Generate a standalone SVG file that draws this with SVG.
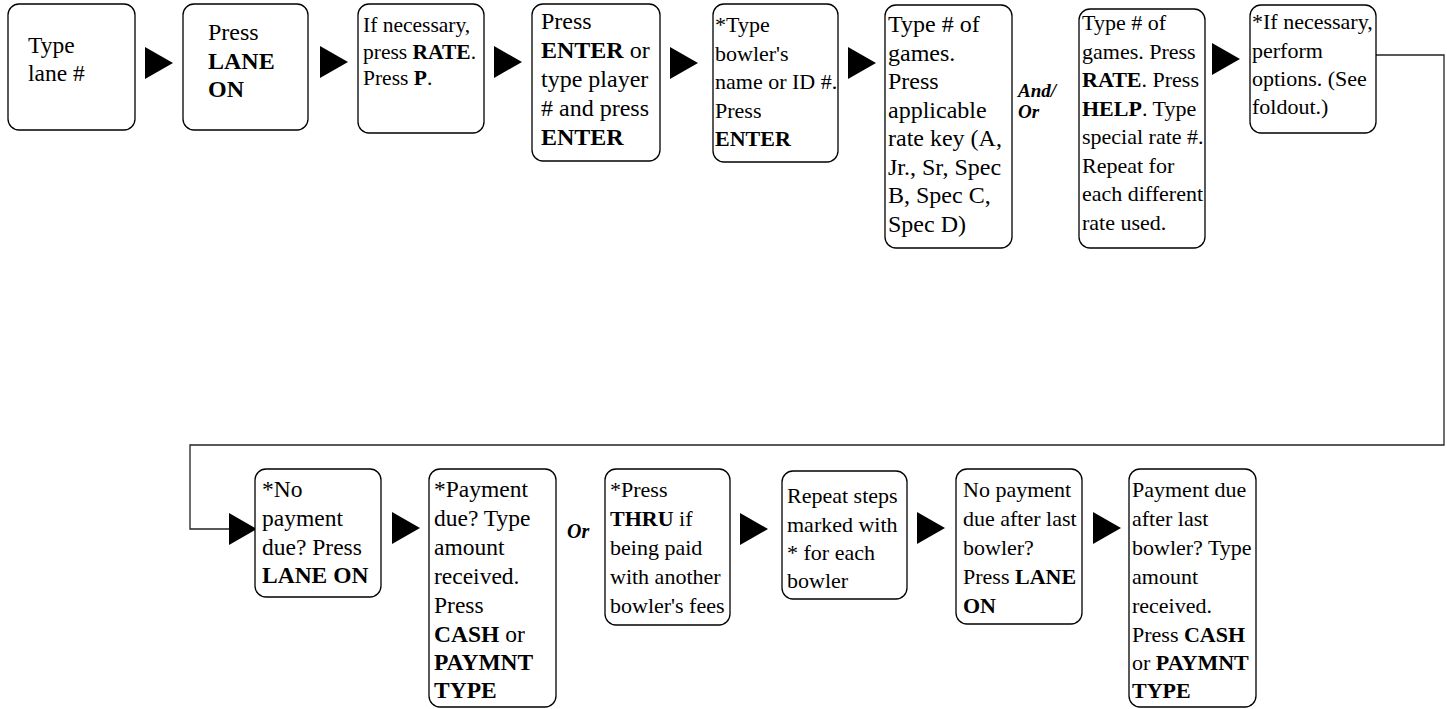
<svg xmlns="http://www.w3.org/2000/svg" width="1447" height="709" viewBox="0 0 1447 709">
<style>
.box{fill:#fff;stroke:#000;stroke-width:1.3}
.t{fill:#000}
.b{font-weight:bold}
.lbl{font-weight:bold;font-style:italic;font-size:20px;fill:#000}
.arr{fill:#000}
.line{fill:none;stroke:#222;stroke-width:1.3}
</style>
<rect width="1447" height="709" fill="#fff"/>
<g id="connectors">
<polyline class="line" points="1376,55 1444,55 1444,445 190,445 190,529 232,529"/>
<polygon class="arr" points="145,47 173,63 145,79"/>
<polygon class="arr" points="320,46 348,62 320,78"/>
<polygon class="arr" points="494,46 522,62 494,78"/>
<polygon class="arr" points="670,47 698,63 670,79"/>
<polygon class="arr" points="848,47 876,63 848,79"/>
<polygon class="arr" points="1212,43 1240,59 1212,75"/>
<polygon class="arr" points="229,513 257,529 229,545"/>
<polygon class="arr" points="392,512 420,528 392,544"/>
<polygon class="arr" points="740,513 768,529 740,545"/>
<polygon class="arr" points="917,512 945,528 917,544"/>
<polygon class="arr" points="1093,512 1121,528 1093,544"/>
</g>
<g font-family="Liberation Serif, Times New Roman, Tinos, Noto Serif, DejaVu Serif, serif">
<g id="n1"><rect class="box" x="8" y="4" width="127" height="126" rx="11"/>
<text class="t" font-size="23.5"><tspan x="28" y="53">Type</tspan><tspan x="28" y="81">lane #</tspan></text></g>
<g id="n2"><rect class="box" x="183" y="4" width="125" height="126" rx="11"/>
<text class="t" font-size="24"><tspan x="208" y="40">Press</tspan><tspan x="208" y="68.5" class="b">LANE</tspan><tspan x="208" y="97" class="b">ON</tspan></text></g>
<g id="n3"><rect class="box" x="358" y="4" width="126" height="129" rx="11"/>
<text class="t" font-size="21.5"><tspan x="363" y="32">If necessary,</tspan><tspan x="363" y="58.5">press <tspan class="b">RATE</tspan>.</tspan><tspan x="363" y="85">Press <tspan class="b">P</tspan>.</tspan></text></g>
<g id="n4"><rect class="box" x="532" y="4" width="128" height="157" rx="11"/>
<text class="t" font-size="24"><tspan x="541" y="29">Press</tspan><tspan x="541" y="58"><tspan class="b">ENTER</tspan> or</tspan><tspan x="541" y="87">type player</tspan><tspan x="541" y="116"># and press</tspan><tspan x="541" y="145" class="b">ENTER</tspan></text></g>
<g id="n5"><rect class="box" x="713" y="4" width="125" height="158" rx="11"/>
<text class="t" font-size="22"><tspan x="715" y="32">*Type</tspan><tspan x="715" y="60.5">bowler's</tspan><tspan x="715" y="89">name or ID #.</tspan><tspan x="715" y="117.5">Press</tspan><tspan x="715" y="146" class="b">ENTER</tspan></text></g>
<g id="n6"><rect class="box" x="885" y="5" width="127" height="243" rx="11"/>
<text class="t" font-size="24"><tspan x="888" y="32">Type # of</tspan><tspan x="888" y="60.5">games.</tspan><tspan x="888" y="89">Press</tspan><tspan x="888" y="117.5">applicable</tspan><tspan x="888" y="146">rate key (A,</tspan><tspan x="888" y="174.5">Jr., Sr, Spec</tspan><tspan x="888" y="203">B, Spec C,</tspan><tspan x="888" y="231.5">Spec D)</tspan></text></g>
<g id="lbl1"><text class="lbl" font-size="19" style="font-size:19px"><tspan x="1018" y="97">And/</tspan><tspan x="1018" y="118">Or</tspan></text></g>
<g id="n7"><rect class="box" x="1079" y="9" width="126" height="239" rx="11"/>
<text class="t" font-size="22"><tspan x="1082" y="30">Type # of</tspan><tspan x="1082" y="58.5">games. Press</tspan><tspan x="1082" y="87"><tspan class="b">RATE</tspan>. Press</tspan><tspan x="1082" y="115.5"><tspan class="b">HELP</tspan>. Type</tspan><tspan x="1082" y="144">special rate #.</tspan><tspan x="1082" y="172.5">Repeat for</tspan><tspan x="1082" y="201" textLength="121" lengthAdjust="spacingAndGlyphs">each different</tspan><tspan x="1082" y="229.5">rate used.</tspan></text></g>
<g id="n8"><rect class="box" x="1250" y="5" width="126" height="128" rx="11"/>
<text class="t" font-size="22"><tspan x="1252" y="29">*If necessary,</tspan><tspan x="1252" y="57.5">perform</tspan><tspan x="1252" y="86">options. (See</tspan><tspan x="1252" y="114">foldout.)</tspan></text></g>
<g id="n9"><rect class="box" x="255" y="469" width="126" height="128" rx="11"/>
<text class="t" font-size="23.5"><tspan x="262" y="497">*No</tspan><tspan x="262" y="526">payment</tspan><tspan x="262" y="555">due? Press</tspan><tspan x="262" y="583" class="b">LANE ON</tspan></text></g>
<g id="n10"><rect class="box" x="429" y="469" width="127" height="238" rx="11"/>
<text class="t" font-size="23.5"><tspan x="434" y="497">*Payment</tspan><tspan x="434" y="526">due? Type</tspan><tspan x="434" y="555">amount</tspan><tspan x="434" y="584">received.</tspan><tspan x="434" y="613">Press</tspan><tspan x="434" y="642"><tspan class="b">CASH</tspan> or</tspan><tspan x="434" y="670" class="b">PAYMNT</tspan><tspan x="434" y="698" class="b">TYPE</tspan></text></g>
<g id="lbl2"><text class="lbl" x="567" y="538">Or</text></g>
<g id="n11"><rect class="box" x="605" y="469" width="125" height="156" rx="11"/>
<text class="t" font-size="22"><tspan x="610" y="497">*Press</tspan><tspan x="610" y="526"><tspan class="b">THRU</tspan> if</tspan><tspan x="610" y="555">being paid</tspan><tspan x="610" y="584">with another</tspan><tspan x="610" y="613">bowler's fees</tspan></text></g>
<g id="n12"><rect class="box" x="782" y="471" width="125" height="128" rx="11"/>
<text class="t" font-size="22"><tspan x="787" y="503">Repeat steps</tspan><tspan x="787" y="532">marked with</tspan><tspan x="787" y="560">* for each</tspan><tspan x="787" y="588">bowler</tspan></text></g>
<g id="n13"><rect class="box" x="956" y="469" width="126" height="155" rx="11"/>
<text class="t" font-size="22"><tspan x="963" y="497">No payment</tspan><tspan x="963" y="526">due after last</tspan><tspan x="963" y="555">bowler?</tspan><tspan x="963" y="584">Press <tspan class="b">LANE</tspan></tspan><tspan x="963" y="613" class="b">ON</tspan></text></g>
<g id="n14"><rect class="box" x="1129" y="469" width="127" height="238" rx="11"/>
<text class="t" font-size="22"><tspan x="1132" y="497">Payment due</tspan><tspan x="1132" y="526">after last</tspan><tspan x="1132" y="555">bowler? Type</tspan><tspan x="1132" y="584">amount</tspan><tspan x="1132" y="613">received.</tspan><tspan x="1132" y="642">Press <tspan class="b">CASH</tspan></tspan><tspan x="1132" y="670">or <tspan class="b">PAYMNT</tspan></tspan><tspan x="1132" y="698" class="b">TYPE</tspan></text></g>
</g>
</svg>
